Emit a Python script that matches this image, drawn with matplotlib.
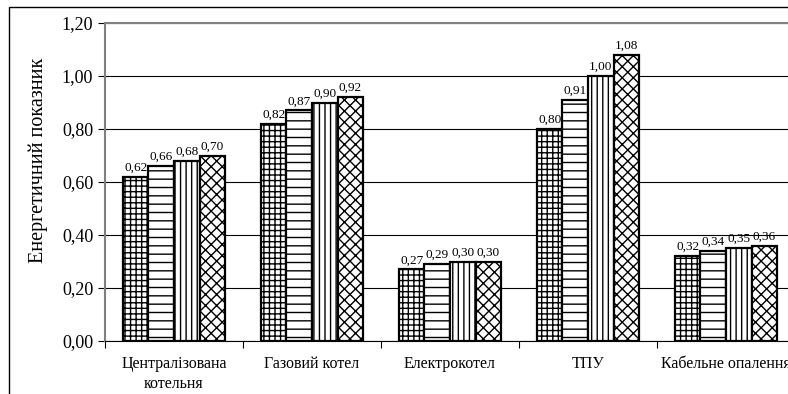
import numpy as np
import matplotlib.pyplot as plt
from matplotlib.patches import Rectangle
from matplotlib.ticker import FuncFormatter, FixedLocator

plt.rcParams['font.family'] = ['Liberation Serif', 'DejaVu Serif']
plt.rcParams['hatch.linewidth'] = 1.0

# data
categories = ['Централізована\nкотельня', 'Газовий котел', 'Електрокотел', 'ТПУ', 'Кабельне опалення']
series_1 = [0.62, 0.82, 0.27, 0.80, 0.32]
series_2 = [0.66, 0.87, 0.29, 0.91, 0.34]
series_3 = [0.68, 0.90, 0.30, 1.00, 0.35]
series_4 = [0.70, 0.92, 0.30, 1.08, 0.36]
series = [series_1, series_2, series_3, series_4]
hatches = ['+++', '--', '|||', 'xxx']

fig = plt.figure(figsize=(7.88, 3.94), dpi=100)
# plot area runs past the right edge, like the cropped original
ax = fig.add_axes([105 / 788, 53 / 394, 690 / 788, 318 / 394])

x = np.arange(len(categories))
w = 0.185
for i, vals in enumerate(series):
    pos = x + (i - 1.5) * w
    bars = ax.bar(pos, vals, w, color='white', edgecolor='black',
                  linewidth=1.6, hatch=hatches[i], zorder=3)
    for b, v in zip(bars, vals):
        ax.text(b.get_x() + b.get_width() / 2, v + 0.012, f'{v:.2f}'.replace('.', ','),
                ha='center', va='bottom', fontsize=9.5, zorder=4)

ax.set_xlim(-0.5, len(categories) - 0.5)
ax.set_ylim(0, 1.2)
ax.set_yticks(np.arange(0, 1.21, 0.2))
ax.yaxis.set_major_formatter(FuncFormatter(lambda v, p: f'{v:.2f}'.replace('.', ',')))
ax.tick_params(axis='y', labelsize=13, direction='out', length=5, width=0.8, color='black')

ax.set_xticks(x)
ax.set_xticklabels(categories, fontsize=11.5, linespacing=1.3)
ax.tick_params(axis='x', which='major', length=0, pad=11)
ax.xaxis.set_minor_locator(FixedLocator(np.arange(-0.5, len(categories), 1.0)))
ax.tick_params(axis='x', which='minor', length=5, width=0.8, direction='out')

ax.grid(axis='y', color='black', linewidth=0.8, zorder=0)
ax.set_axisbelow(True)
for s in ['top', 'left']:
    ax.spines[s].set_color('#808080')
    ax.spines[s].set_linewidth(1.5)
ax.spines['right'].set_visible(False)
ax.spines['bottom'].set_color('black')
ax.spines['bottom'].set_linewidth(0.8)

# axis title sits a bit above the plot centre in the original
fig.text(38 / 788, 1 - 160 / 394, 'Енергетичний показник', fontsize=14.5,
         rotation=90, ha='center', va='center')

# outer chart frame
fig.patches.append(Rectangle((9 / 788, -0.1), 1.2, (394 - 7) / 394 + 0.1,
                             transform=fig.transFigure, fill=False,
                             edgecolor='black', linewidth=1.0))

fig.savefig('out.png', dpi=100)
